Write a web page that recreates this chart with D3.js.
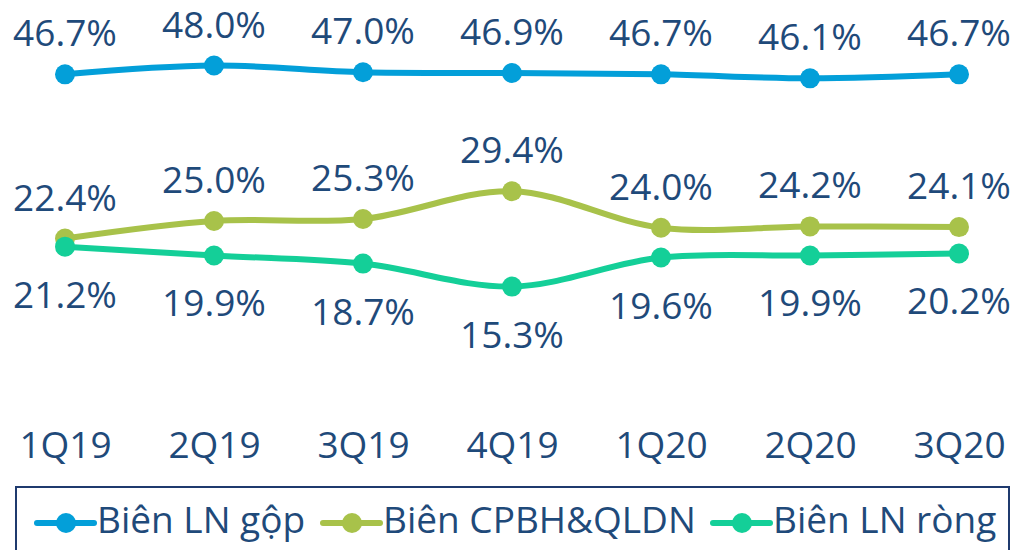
<!DOCTYPE html>
<html>
<head>
<meta charset="utf-8">
<script src="https://cdn.jsdelivr.net/npm/d3@7"></script>
<style>
	html, body { margin: 0; padding: 0; background: #fff; }
	svg { display: block; font-family: 'Open Sans', sans-serif; }
</style>
</head>
<body>
<div id="chart"></div>
<script>
const quarters = ['1Q19', '2Q19', '3Q19', '4Q19', '1Q20', '2Q20', '3Q20'];
const grossMargin = [46.7, 48.0, 47.0, 46.9, 46.7, 46.1, 46.7];
const sgaMargin = [22.4, 25.0, 25.3, 29.4, 24.0, 24.2, 24.1];
const netMargin = [21.2, 19.9, 18.7, 15.3, 19.6, 19.9, 20.2];
const seriesNames = ['Biên LN gộp', 'Biên CPBH&QLDN', 'Biên LN ròng'];

const width = 1019;
const height = 550;
const textColor = '#1F4A7A';
const fontSize = 37;

const series = [
	{ key: seriesNames[0], values: grossMargin, color: '#039FD9', labelPos: 'above' },
	{ key: seriesNames[1], values: sgaMargin, color: '#A8C24A', labelPos: 'above' },
	{ key: seriesNames[2], values: netMargin, color: '#14CF98', labelPos: 'below' },
];

const svg = d3
	.select('#chart')
	.append('svg')
	.attr('width', width)
	.attr('height', height);

const x = d3.scalePoint().domain(quarters).range([65, 959]);
const y = d3.scaleLinear().domain([0, 50]).range([390, 52]);

const line = d3
	.line()
	.x((d) => x(d.q))
	.y((d) => y(d.v))
	.curve(d3.curveCatmullRom);

// category labels
const xAxis = d3.axisBottom(x).tickSize(0).tickPadding(0);
const xAxisG = svg
	.append('g')
	.attr('transform', 'translate(0,424)')
	.call(xAxis);
xAxisG.select('.domain').remove();
xAxisG
	.selectAll('text')
	.attr('dy', 0)
	.attr('y', 34)
	.attr('fill', textColor)
	.style('font-size', fontSize + 'px')
	.style('font-family', "'Open Sans', sans-serif");

series.forEach((s) => {
	const pts = s.values.map((v, i) => ({ q: quarters[i], v: v }));
	const g = svg.append('g');
	g.append('path')
		.datum(pts)
		.attr('fill', 'none')
		.attr('stroke', s.color)
		.attr('stroke-width', 6)
		.attr('stroke-linecap', 'round')
		.attr('d', line);
	g.selectAll('circle')
		.data(pts)
		.join('circle')
		.attr('cx', (d) => x(d.q))
		.attr('cy', (d) => y(d.v))
		.attr('r', 10)
		.attr('fill', s.color);
	g.selectAll('text')
		.data(pts)
		.join('text')
		.attr('x', (d) => x(d.q))
		.attr('y', (d) => y(d.v) + (s.labelPos === 'above' ? -28 : 61))
		.attr('text-anchor', 'middle')
		.attr('fill', textColor)
		.style('font-size', fontSize + 'px')
		.text((d) => d.v.toFixed(1) + '%');
});

// legend
const legend = svg.append('g');
legend
	.append('rect')
	.attr('x', 16)
	.attr('y', 487)
	.attr('width', 993)
	.attr('height', 80)
	.attr('fill', 'none')
	.attr('stroke', '#1F3A6E')
	.attr('stroke-width', 2);

const legendX = [37, 323, 713];
series.forEach((s, i) => {
	const lg = legend.append('g').attr('transform', `translate(${legendX[i]},523)`);
	lg.append('line')
		.attr('x1', 0)
		.attr('x2', 57)
		.attr('y1', 0)
		.attr('y2', 0)
		.attr('stroke', s.color)
		.attr('stroke-width', 6)
		.attr('stroke-linecap', 'round');
	lg.append('circle').attr('cx', 29).attr('cy', 0).attr('r', 10).attr('fill', s.color);
	lg.append('text')
		.attr('x', 60)
		.attr('y', 10)
		.attr('fill', textColor)
		.style('font-size', fontSize + 'px')
		.text(s.key);
});
</script>
</body>
</html>
